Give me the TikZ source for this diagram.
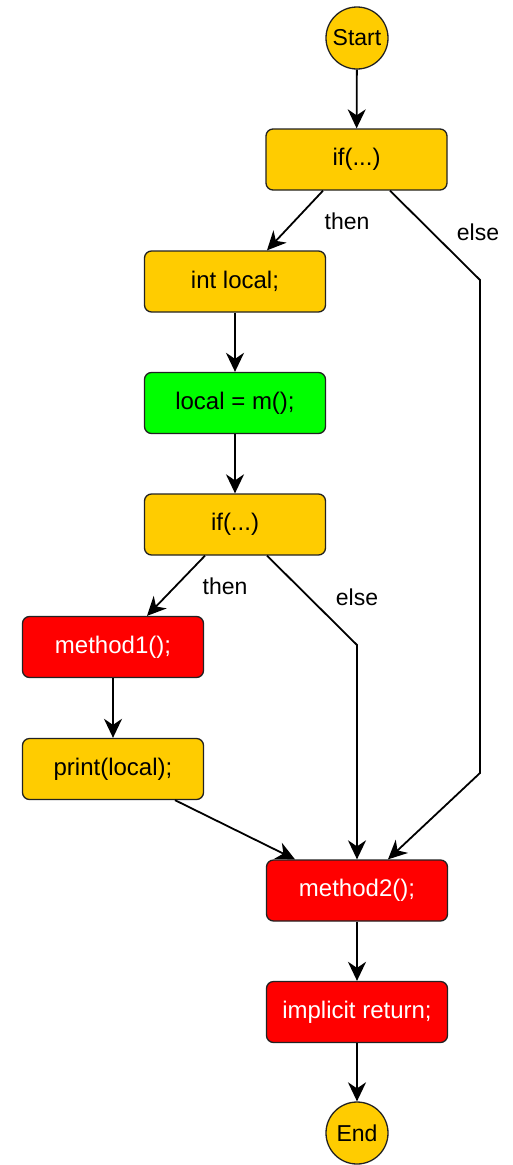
\documentclass[tikz,border=0pt]{standalone}
\usepackage{fontspec}
\setmainfont{Liberation Sans}
\usetikzlibrary{arrows.meta}
\definecolor{ygold}{HTML}{FFCC00}
\definecolor{ggreen}{HTML}{00FF00}
\definecolor{rred}{HTML}{FF0000}
\definecolor{bord}{HTML}{222222}
\begin{document}
\begin{tikzpicture}[x=1pt,y=-1pt,
  box/.style={draw=bord,line width=1.3pt,rounded corners=7pt,minimum width=181pt,minimum height=61pt,inner sep=0pt,font=\fontsize{24}{27}\selectfont},
  ybox/.style={box,fill=ygold,text=black},
  gbox/.style={box,fill=ggreen,text=black},
  rbox/.style={box,fill=rred,text=white},
  term/.style={circle,draw=bord,line width=1.3pt,fill=ygold,minimum size=62pt,inner sep=0pt,font=\fontsize{23}{26}\selectfont},
  arr/.style={line width=1.8pt,-{Stealth[length=19pt,width=18pt,inset=6pt]}},
  lbl/.style={font=\fontsize{23}{26}\selectfont}]
\useasboundingbox (0,0) rectangle (512,1165);
\node[term] (start) at (357,38) {Start};
\node[ybox] (if1) at (356.5,159.5) {if(...)};
\node[ybox] (intl) at (235,281.5) {int local;};
\node[gbox] (loc) at (235,403) {local = m();};
\node[ybox] (if2) at (235,524.5) {if(...)};
\node[rbox] (m1) at (113,647) {method1();};
\node[ybox] (pr) at (113,769) {print(local);};
\node[rbox] (m2) at (357,890.5) {method2();};
\node[rbox] (ret) at (357,1012) {implicit return;};
\node[term] (end) at (357,1133) {End};
\coordinate (e1a) at (480,280);
\coordinate (e1b) at (480,773);
\coordinate (e2a) at (357,645);
\draw[arr] (start) -- (if1);
\draw[arr] ([xshift=-33.5pt]if1.south) -- ([xshift=32pt]intl.north);
\node[lbl] (then1) at (347,221) {then};
\draw[arr] ([xshift=33.5pt]if1.south) -- (e1a) -- (e1b) -- ([xshift=31pt]m2.north);
\node[lbl] (else1) at (478,232) {else};
\draw[arr] (intl) -- (loc);
\draw[arr] (loc) -- (if2);
\draw[arr] ([xshift=-30pt]if2.south) -- ([xshift=34pt]m1.north);
\node[lbl] (then2) at (225,586) {then};
\draw[arr] ([xshift=32pt]if2.south) -- (e2a) -- (m2.north);
\node[lbl] (else2) at (357,597) {else};
\draw[arr] (m1) -- (pr);
\draw[arr] ([xshift=62pt]pr.south) -- ([xshift=-62pt]m2.north);
\draw[arr] (m2) -- (ret);
\draw[arr] (ret) -- (end);
\end{tikzpicture}
\end{document}
